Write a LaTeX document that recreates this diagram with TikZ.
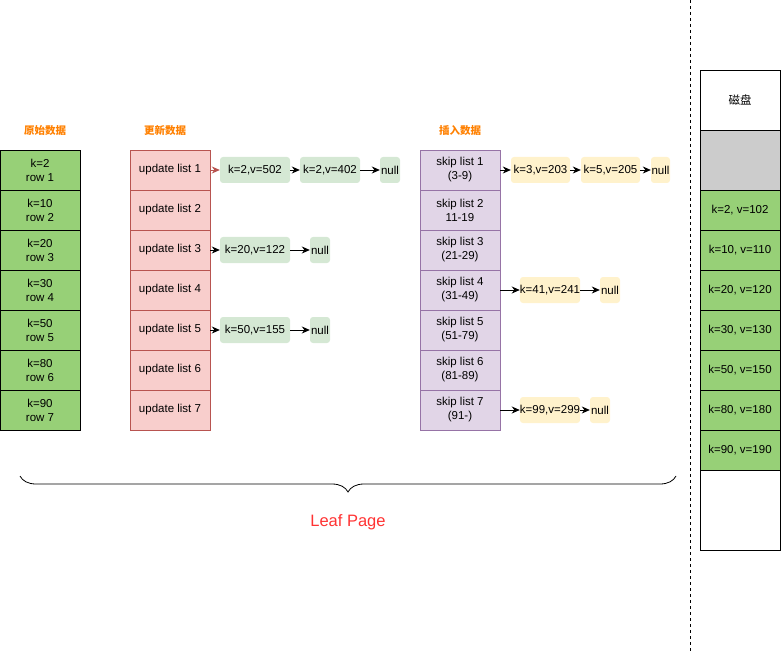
\documentclass[tikz,border=0pt]{standalone}
\usepackage{fontspec}
\setmainfont{Liberation Sans}
\newfontfamily\cjk{Noto Sans CJK SC}
\usepackage{tikz}
\usetikzlibrary{arrows.meta, positioning, decorations.pathreplacing}
\usepackage{xcolor}

\definecolor{verde}{HTML}{97D077}
\definecolor{verdeclaro}{HTML}{D5E8D4}
\definecolor{rosa}{HTML}{F8CECC}
\definecolor{rojizo}{HTML}{B85450}
\definecolor{lila}{HTML}{E1D5E7}
\definecolor{morado}{HTML}{9673A6}
\definecolor{amarillo}{HTML}{FFF2CC}
\definecolor{naranja}{HTML}{FF8000}
\definecolor{gris}{HTML}{CCCCCC}
\definecolor{rojo}{HTML}{FF3333}

\tikzset{
    celda/.style={rectangle, draw, line width=0.8pt, minimum width=80pt, minimum height=40pt, inner sep=0pt, align=center, font=\fontsize{11.5}{14}\selectfont},
    orig/.style={celda, fill=verde, draw=black},
    upd/.style={celda, fill=rosa, draw=rojizo},
    skl/.style={celda, fill=lila, draw=morado},
    disco/.style={celda, draw=black},
    kv/.style={rectangle, rounded corners=3pt, minimum height=26pt, inner sep=0pt, font=\fontsize{11.5}{14}\selectfont},
    kvg/.style={kv, fill=verdeclaro},
    kvy/.style={kv, fill=amarillo},
    titulo/.style={font=\cjk\bfseries\fontsize{10.5}{12}\selectfont, text=naranja},
    flecha/.style={-{Stealth[length=8pt,width=7pt]}, line width=0.8pt}
}

\begin{document}
\begin{tikzpicture}[x=1pt, y=-1pt]

    \useasboundingbox (0,0) rectangle (781,652);

    % Datos originales
    \node[titulo] (tori) at (45,131) {原始数据};
    \node[orig] (o1) at (40,170) {k=2\\row 1};
    \node[orig] (o2) at (40,210) {k=10\\row 2};
    \node[orig] (o3) at (40,250) {k=20\\row 3};
    \node[orig] (o4) at (40,290) {k=30\\row 4};
    \node[orig] (o5) at (40,330) {k=50\\row 5};
    \node[orig] (o6) at (40,370) {k=80\\row 6};
    \node[orig] (o7) at (40,410) {k=90\\row 7};

    % Datos actualizados
    \node[titulo] (tupd) at (165,131) {更新数据};
    \node[upd] (u1) at (170,170) {update list 1};
    \node[upd] (u2) at (170,210) {update list 2};
    \node[upd] (u3) at (170,250) {update list 3};
    \node[upd] (u4) at (170,290) {update list 4};
    \node[upd] (u5) at (170,330) {update list 5};
    \node[upd] (u6) at (170,370) {update list 6};
    \node[upd] (u7) at (170,410) {update list 7};

    \node[kvg, minimum width=70pt] (g11) at (255,170) {k=2,v=502};
    \node[kvg, minimum width=60pt] (g12) at (330,170) {k=2,v=402};
    \node[kvg, minimum width=20pt] (g13) at (390,170) {null};
    \node[kvg, minimum width=70pt] (g31) at (255,250) {k=20,v=122};
    \node[kvg, minimum width=20pt] (g32) at (320,250) {null};
    \node[kvg, minimum width=70pt] (g51) at (255,330) {k=50,v=155};
    \node[kvg, minimum width=20pt] (g52) at (320,330) {null};

    \draw[flecha, draw=rojizo] (u1.east) -- (g11);
    \draw[flecha] (g11) -- (g12);
    \draw[flecha] (g12) -- (g13);
    \draw[flecha] (u3.east) -- (g31);
    \draw[flecha] (g31) -- (g32);
    \draw[flecha] (u5.east) -- (g51);
    \draw[flecha] (g51) -- (g52);

    % Datos insertados
    \node[titulo] (tins) at (460,131) {插入数据};
    \node[skl] (s1) at (460,170) {skip list 1\\(3-9)};
    \node[skl] (s2) at (460,210) {skip list 2\\11-19};
    \node[skl] (s3) at (460,250) {skip list 3\\(21-29)};
    \node[skl] (s4) at (460,290) {skip list 4\\(31-49)};
    \node[skl] (s5) at (460,330) {skip list 5\\(51-79)};
    \node[skl] (s6) at (460,370) {skip list 6\\(81-89)};
    \node[skl] (s7) at (460,410) {skip list 7\\(91-)};

    \node[kvy, minimum width=59pt] (y11) at (540.5,170) {k=3,v=203};
    \node[kvy, minimum width=59pt] (y12) at (610.5,170) {k=5,v=205};
    \node[kvy, minimum width=19pt] (y13) at (660.5,170) {null};
    \node[kvy, minimum width=60pt] (y41) at (550,290) {k=41,v=241};
    \node[kvy, minimum width=20pt] (y42) at (610,290) {null};
    \node[kvy, minimum width=60pt] (y71) at (550,410) {k=99,v=299};
    \node[kvy, minimum width=20pt] (y72) at (600,410) {null};

    \draw[flecha] (s1.east) -- (y11);
    \draw[flecha] (y11) -- (y12);
    \draw[flecha] (y12) -- (y13);
    \draw[flecha] (s4.east) -- (y41);
    \draw[flecha] (y41) -- (y42);
    \draw[flecha] (s7.east) -- (y71);
    \draw[flecha] (y71) -- (y72);

    % Llave de la hoja
    \coordinate (bizq) at (20,476);
    \coordinate (bder) at (676,476);
    \draw[line width=0.8pt, decorate, decoration={brace, mirror, amplitude=16pt}] (bizq) -- (bder);
    \node[text=rojo, font=\fontsize{16.5}{18}\selectfont] (leaf) at (348,522) {Leaf Page};

    % Separador
    \coordinate (sepa) at (690,0);
    \coordinate (sepb) at (690,652);
    \draw[dashed, line width=0.8pt] (sepa) -- (sepb);

    % Disco
    \node[disco, minimum height=60pt, fill=white] (d0) at (740,100) {\cjk 磁盘};
    \node[disco, minimum height=60pt, fill=gris] (dg) at (740,160) {};
    \node[disco, fill=verde] (d1) at (740,210) {k=2, v=102};
    \node[disco, fill=verde] (d2) at (740,250) {k=10, v=110};
    \node[disco, fill=verde] (d3) at (740,290) {k=20, v=120};
    \node[disco, fill=verde] (d4) at (740,330) {k=30, v=130};
    \node[disco, fill=verde] (d5) at (740,370) {k=50, v=150};
    \node[disco, fill=verde] (d6) at (740,410) {k=80, v=180};
    \node[disco, fill=verde] (d7) at (740,450) {k=90, v=190};
    \node[disco, minimum height=80pt, fill=white] (d8) at (740,510) {};

\end{tikzpicture}
\end{document}
